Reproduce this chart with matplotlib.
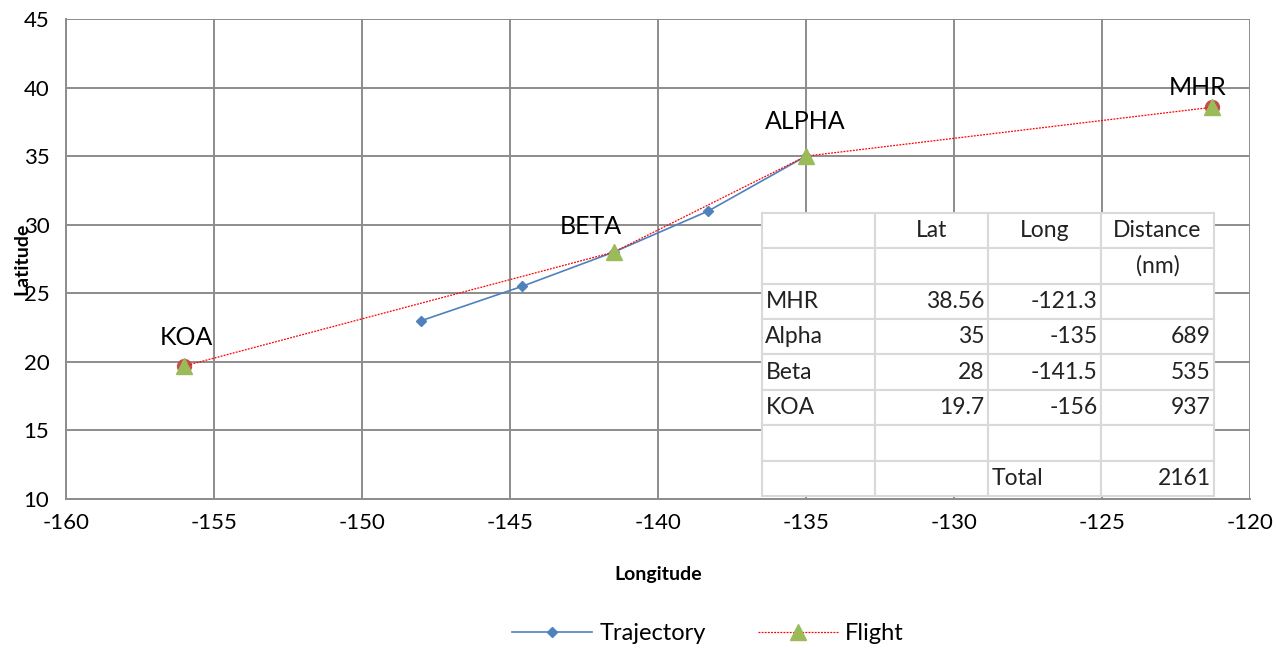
import numpy as np
import matplotlib.pyplot as plt

plt.rcParams['font.family'] = ['Lato', 'DejaVu Sans']
plt.rcParams['axes.unicode_minus'] = False

# trajectory (blue) and flight plan (red/green) points
traj_lon = [-148.0, -144.6, -141.5, -138.3, -135.0]
traj_lat = [23.0, 25.5, 28.0, 31.0, 35.0]

wp_names = ["KOA", "BETA", "ALPHA", "MHR"]
wp_lon = [-156.0, -141.5, -135.0, -121.3]
wp_lat = [19.7, 28.0, 35.0, 38.56]

# airports (red circles behind triangles)
apt_lon = [-156.0, -121.3]
apt_lat = [19.7, 38.56]

# table content
tbl_names = ["MHR", "Alpha", "Beta", "KOA"]
tbl_lat = ["38.56", "35", "28", "19.7"]
tbl_long = ["-121.3", "-135", "-141.5", "-156"]
tbl_dist = ["", "689", "535", "937"]
total_dist = "2161"

label_offsets = [(2, 28), (-23, 26), (-1, 35), (-14, 20)]

fig = plt.figure(figsize=(12.76, 6.48), dpi=100)
ax = fig.add_axes([66 / 1276, 1 - 499 / 648, 1184 / 1276, 480 / 648])

grid_c = "#8c8c8c"
ax.set_xlim(-160, -120)
ax.set_ylim(10, 45)
ax.set_xticks(np.arange(-160, -119, 5))
ax.set_yticks(np.arange(10, 46, 5))
ax.grid(True, color=grid_c, lw=1.4)
for s in ax.spines.values():
    s.set_visible(False)
for side in ['left', 'bottom']:
    ax.spines[side].set_visible(True)
    ax.spines[side].set_color(grid_c)
    ax.spines[side].set_linewidth(1.4)
ax.tick_params(length=0, labelsize=16, pad=10)
ax.tick_params(axis='y', pad=12)
ax.set_axisbelow(True)

ax.plot(traj_lon, traj_lat, color="#4f81bd", lw=1.2, marker="D", ms=5,
        label="Trajectory", zorder=3)
ax.plot(apt_lon, apt_lat, ls="none", marker="o", ms=10, color="#c0504d",
        zorder=4)
ax.plot(wp_lon, wp_lat, color="red", lw=0.9, ls=(0, (1.5, 1)), marker="^",
        ms=12, mfc="#9bbb59", mec="#9bbb59", label="Flight", zorder=5)

for name, x, y, off in zip(wp_names, wp_lon, wp_lat, label_offsets):
    ax.annotate(name, (x, y), xytext=off, textcoords="offset pixels",
                ha="center", va="center", fontsize=18)

ax.set_xlabel("Longitude", fontsize=14, fontweight="bold", labelpad=24)
ax.set_ylabel("Latitude", fontsize=14, fontweight="bold")
ax.yaxis.set_label_coords(-36 / 1184, 0.5)

# data table drawn over the plot
rows = [["", "Lat", "Long", "Distance"], ["", "", "", "(nm)"]]
for n, la, lo, d in zip(tbl_names, tbl_lat, tbl_long, tbl_dist):
    rows.append([n, la, lo, d])
rows.append(["", "", "", ""])
rows.append(["", "", "Total", total_dist])

x0 = (762 - 66) / 1184
x1 = (1214 - 66) / 1184
y0 = (499 - 496) / 480
y1 = (499 - 213) / 480
tbl = ax.table(cellText=rows, bbox=[x0, y0, x1 - x0, y1 - y0], zorder=10)
tbl.auto_set_font_size(False)
tbl.set_fontsize(16.5)
for (r, c), cell in tbl.get_celld().items():
    cell.set_edgecolor("#d9d9d9")
    cell.set_linewidth(1.5)
    cell.set_facecolor("white")
    cell.get_text().set_color("#222222")
    cell.PAD = 0.03
    if r <= 1 and c > 0:
        cell._loc = "center"
        cell.set_text_props(ha="center")
    elif c == 0 or (r == 7 and c == 2):
        cell._loc = "left"
        cell.set_text_props(ha="left")
    else:
        cell._loc = "right"
        cell.set_text_props(ha="right")

fig.legend(loc="center", bbox_to_anchor=(708 / 1276, 1 - 634 / 648), ncol=2,
           frameon=False, fontsize=17, handlelength=3.4, columnspacing=2.2,
           handletextpad=0.3)

fig.savefig("out.png", dpi=100)
